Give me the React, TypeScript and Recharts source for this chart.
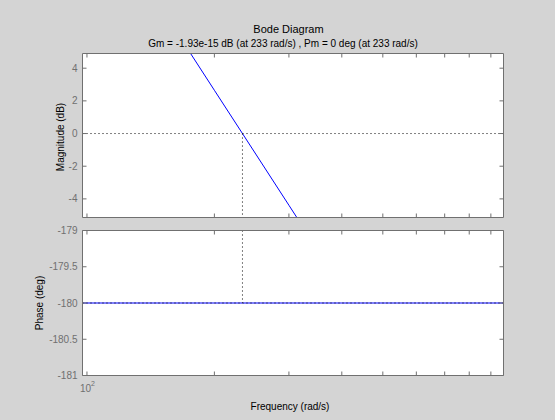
import React from 'react';
import { ComposedChart, Line, XAxis, YAxis, ReferenceLine, CartesianGrid } from 'recharts';

const freqs = [97.6, 150, 200, 233, 300, 400, 600, 964];
const magnitudeDb = [15.1, 7.65, 2.65, 0, -4.39, -9.39, -16.43, -24.6];
const phaseDeg = [-180, -180, -180, -180, -180, -180, -180, -180];
const freqTicks = [100, 200, 300, 400, 500, 600, 700, 800, 900];
const magTicks = [-4, -2, 0, 2, 4];
const phaseTicks = [-181, -180.5, -180, -179.5, -179];
const crossoverFreq = 233;
const freqDomain: [number, number] = [97.6, 964];
const magDomain: [number, number] = [-5.14, 4.9];
const phaseDomain: [number, number] = [-181, -179];
const titleText = 'Bode Diagram';
const subtitleText = 'Gm = -1.93e-15 dB (at 233 rad/s) ,  Pm = 0 deg (at 233 rad/s)';

const data = freqs.map((f, i) => ({ f, mag: magnitudeDb[i], phase: phaseDeg[i] }));

const BG = '#d4d4d4';
const AX = '#707070';
const FONT = '"Liberation Sans", Arial, sans-serif';
const TL = 4;
const XH = 20;
const YW = 30;

const LeftTick = (props: any) => {
  const { x, y, payload } = props;
  return (
    <g>
      <line x1={x} x2={x + TL} y1={y} y2={y} stroke={AX} />
      <text x={x - 5} y={y} dy="0.36em" textAnchor="end" fontSize={10} fill={AX} fontFamily={FONT}>
        {String(payload.value)}
      </text>
    </g>
  );
};
const RightTick = (props: any) => {
  const { x, y } = props;
  return <line x1={x} x2={x - TL} y1={y} y2={y} stroke={AX} />;
};
const TopTick = (props: any) => {
  const { x, y } = props;
  return <line x1={x} x2={x} y1={y} y2={y + TL} stroke={AX} />;
};
const BottomTickPlain = (props: any) => {
  const { x, y } = props;
  return <line x1={x} x2={x} y1={y} y2={y - TL} stroke={AX} />;
};
const BottomTickLabeled = (props: any) => {
  const { x, y, payload } = props;
  const isDecade = payload.value === 100;
  return (
    <g>
      <line x1={x} x2={x} y1={y} y2={y - TL} stroke={AX} />
      {isDecade && (
        <text x={x - 7} y={y + 16} fontSize={10} fill={AX} fontFamily={FONT}>
          10
          <tspan dy={-6} fontSize={7}>2</tspan>
        </text>
      )}
    </g>
  );
};

const renderX = (id: any, orientation: 'top' | 'bottom', tick: any) => (
  <XAxis
    xAxisId={id}
    orientation={orientation}
    dataKey="f"
    type="number"
    scale="log"
    domain={freqDomain}
    allowDataOverflow
    ticks={freqTicks}
    interval={0}
    height={XH}
    tickSize={0}
    tickMargin={0}
    tickLine={false}
    axisLine={{ stroke: AX }}
    tick={tick}
  />
);

const renderY = (id: any, orientation: 'left' | 'right', domain: [number, number], ticks: number[], tick: any) => (
  <YAxis
    yAxisId={id}
    orientation={orientation}
    type="number"
    domain={domain}
    allowDataOverflow
    ticks={ticks}
    interval={0}
    width={YW}
    tickSize={0}
    tickMargin={0}
    tickLine={false}
    axisLine={{ stroke: AX }}
    tick={tick}
  />
);

export default function App() {
  return (
    <div style={{ position: 'absolute', left: 0, top: 0, width: 555, height: 420, background: BG, fontFamily: FONT, overflow: 'hidden' }}>
      <div style={{ position: 'absolute', left: 0, top: 0 }}>
        <ComposedChart width={555} height={420} data={data} margin={{ top: 53.5 - XH, right: 51.5 - YW, bottom: 202.5 - XH, left: 82.5 - YW }}>
          <CartesianGrid fill="#ffffff" fillOpacity={1} stroke="none" horizontal={false} vertical={false} />
          {renderX(0, 'bottom', <BottomTickPlain />)}
          {renderX('top', 'top', <TopTick />)}
          {renderY(0, 'left', magDomain, magTicks, <LeftTick />)}
          {renderY('right', 'right', magDomain, magTicks, <RightTick />)}
          <Line dataKey="mag" type="linear" stroke="#0000ff" strokeWidth={1} dot={false} isAnimationActive={false} />
          <ReferenceLine y={0} stroke="#000" strokeDasharray="1 3" />
          <ReferenceLine segment={[{ x: crossoverFreq, y: 0 }, { x: crossoverFreq, y: magDomain[0] }]} stroke="#000" strokeDasharray="1 3" />
        </ComposedChart>
      </div>
      <div style={{ position: 'absolute', left: 0, top: 0 }}>
        <ComposedChart width={555} height={420} data={data} margin={{ top: 230.5 - XH, right: 51.5 - YW, bottom: 44.5 - XH, left: 82.5 - YW }}>
          <CartesianGrid fill="#ffffff" fillOpacity={1} stroke="none" horizontal={false} vertical={false} />
          {renderX(0, 'bottom', <BottomTickLabeled />)}
          {renderX('top', 'top', <TopTick />)}
          {renderY(0, 'left', phaseDomain, phaseTicks, <LeftTick />)}
          {renderY('right', 'right', phaseDomain, phaseTicks, <RightTick />)}
          <Line dataKey="phase" type="linear" stroke="#0000ff" strokeWidth={1} dot={false} isAnimationActive={false} />
          <ReferenceLine y={-180} stroke="#000" strokeDasharray="1 3" />
          <ReferenceLine segment={[{ x: crossoverFreq, y: phaseDomain[1] }, { x: crossoverFreq, y: -180 }]} stroke="#000" strokeDasharray="1 3" />
        </ComposedChart>
      </div>
      <svg width={555} height={420} style={{ position: 'absolute', left: 0, top: 0, pointerEvents: 'none' }}>
        <text x={288.5} y={33} textAnchor="middle" fontSize={11} fill="#000" fontFamily={FONT}>{titleText}</text>
        <text x={283} y={46.5} textAnchor="middle" fontSize={10} fill="#000" fontFamily={FONT}>{subtitleText}</text>
        <text x={64} y={137} transform="rotate(-90 64 137)" textAnchor="middle" fontSize={10} fill="#000" fontFamily={FONT}>Magnitude (dB)</text>
        <text x={43} y={303} transform="rotate(-90 43 303)" textAnchor="middle" fontSize={10} fill="#000" fontFamily={FONT}>Phase (deg)</text>
        <text x={290} y={410} textAnchor="middle" fontSize={10} fill="#000" fontFamily={FONT}>Frequency (rad/s)</text>
      </svg>
    </div>
  );
}
